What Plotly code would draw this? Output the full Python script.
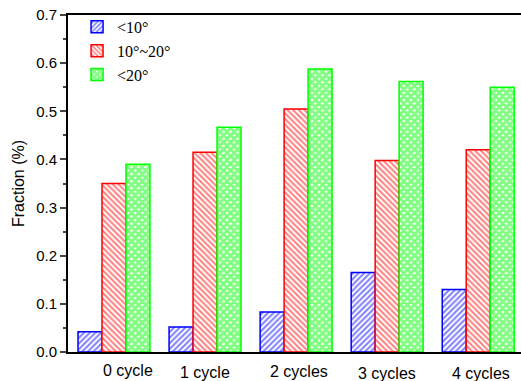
import plotly.graph_objects as go

categories = ["0 cycle", "1 cycle", "2 cycles", "3 cycles", "4 cycles"]
series_names = ["<10°", "10°~20°", "<20°"]
lt10 = [0.042, 0.052, 0.083, 0.165, 0.130]
b10_20 = [0.350, 0.415, 0.505, 0.398, 0.420]
lt20 = [0.390, 0.467, 0.588, 0.562, 0.550]
y_ticks = [0.0, 0.1, 0.2, 0.3, 0.4, 0.5, 0.6, 0.7]

# label placement tweaks (style only)
label_dx = [0.15, 0.0, 0.03, 0.0, 0.03]
label_dy = [-18, -20, -19, -21, -21]

colors = ["#0000ff", "#ff0000", "#00ff00"]
shapes = ["/", "\\", "x"]
solid = [0.5, 0.5, 0.8]
psize = [4, 4, 5]

fig = go.Figure()
for name, vals, c, sh, so, ps in zip(series_names, [lt10, b10_20, lt20], colors, shapes, solid, psize):
    fig.add_trace(go.Bar(
        x=list(range(len(categories))), y=vals, name=name,
        marker=dict(color="white", line=dict(color=c, width=1.5),
                    pattern=dict(shape=sh, fgcolor=c, bgcolor="white", size=ps, solidity=so)),
    ))

for i, cat in enumerate(categories):
    fig.add_annotation(x=i + label_dx[i], y=0, xref="x", yref="paper", text=cat,
                       showarrow=False, yanchor="middle", yshift=label_dy[i],
                       font=dict(family="Liberation Sans, Arial", size=16, color="black"))

fig.update_layout(
    width=521, height=381,
    margin=dict(l=68, r=0, t=15, b=29),
    paper_bgcolor="white", plot_bgcolor="white",
    barmode="group", bargap=0.21, bargroupgap=0,
    font=dict(family="Liberation Sans, Arial", size=15, color="black"),
    legend=dict(x=0.02, y=1.015, xanchor="left", yanchor="top",
                bgcolor="rgba(0,0,0,0)", tracegroupgap=0,
                font=dict(family="Liberation Serif, Times New Roman", size=16, color="black")),
    xaxis=dict(range=[-0.505, 4.47], showline=True, linecolor="black", linewidth=2,
               mirror=True, ticks="", showticklabels=False, showgrid=False, zeroline=False),
    yaxis=dict(range=[0, 0.7], tickvals=y_ticks, tickformat=".1f", showline=True,
               linecolor="black", linewidth=2, ticks="outside", ticklen=6, tickwidth=1.5,
               minor=dict(dtick=0.05, ticks="outside", ticklen=3, tickwidth=1.5),
               showgrid=False, zeroline=False,
               title=dict(text="Fraction (%)", font=dict(size=16), standoff=8)),
)

fig.write_html("out.html", config={"displayModeBar": False},
               post_script="document.body.style.margin='0';document.body.style.overflow='hidden';")
